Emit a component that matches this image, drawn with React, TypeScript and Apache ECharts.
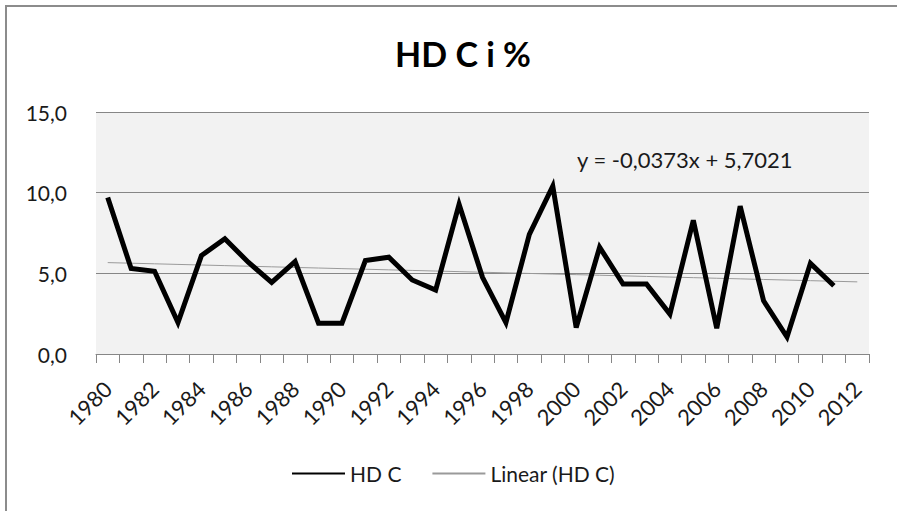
import React, { useEffect, useRef } from "react";
import * as echarts from "echarts";

const years = [
  "1980","1981","1982","1983","1984","1985","1986","1987","1988","1989",
  "1990","1991","1992","1993","1994","1995","1996","1997","1998","1999",
  "2000","2001","2002","2003","2004","2005","2006","2007","2008","2009",
  "2010","2011","2012",
];
const hdcValues: (number | string)[] = [
  9.7, 5.3, 5.13, 1.95, 6.1, 7.14, 5.69, 4.44, 5.73, 1.91,
  1.91, 5.79, 6.0, 4.59, 3.96, 9.28, 4.75, 1.95, 7.41, 10.4,
  1.64, 6.62, 4.34, 4.34, 2.47, 8.29, 1.6, 9.16, 3.3, 1.05,
  5.62, 4.23, "-",
];
const trendSlope = -0.0373;
const trendIntercept = 5.7021;
const trendValues = years.map((_, i) => +(trendSlope * (i + 1) + trendIntercept).toFixed(4));
const equationText = "y = -0,0373x + 5,7021";
const titleText = "HD C i %";
const seriesName = "HD C";
const trendName = "Linear (HD C)";

const FONT = "Lato, 'Open Sans', sans-serif";
const TXT = "#1a1a1a";

export default function App() {
  const ref = useRef<HTMLDivElement>(null);
  useEffect(() => {
    if (!ref.current) return;
    const chart = echarts.init(ref.current, null, { renderer: "svg" });
    chart.setOption({
      animation: false,
      backgroundColor: "#ffffff",
      textStyle: { fontFamily: FONT },
      title: {
        text: titleText,
        left: 458,
        textAlign: "center",
        top: 31,
        textStyle: { fontFamily: FONT, fontSize: 34, fontWeight: "bold", color: "#000" },
      },
      grid: { left: 96, right: 28, top: 112, bottom: 157, backgroundColor: "#f2f2f2", show: true, borderWidth: 0 },
      legend: {
        top: 458,
        left: 286,
        itemWidth: 53,
        itemHeight: 12,
        itemGap: 30,
        itemStyle: { opacity: 0 },
        textStyle: { fontFamily: FONT, fontSize: 21, color: TXT },
        data: [seriesName, trendName],
      },
      xAxis: {
        type: "category",
        data: years,
        boundaryGap: true,
        axisLine: { lineStyle: { color: "#868686", width: 1 } },
        axisTick: { show: true, length: 9, interval: 0, lineStyle: { color: "#868686" } },
        axisLabel: {
          interval: 1,
          rotate: 45,
          fontSize: 22,
          color: TXT,
          fontFamily: FONT,
          margin: 31,
        },
        splitLine: { show: false },
      },
      yAxis: {
        type: "value",
        min: 0,
        max: 15,
        interval: 5,
        axisLine: { show: false },
        axisTick: { show: false },
        axisLabel: {
          fontSize: 21,
          color: TXT,
          fontFamily: FONT,
          margin: 29,
          formatter: (v: number) => v.toFixed(1).replace(".", ","),
        },
        splitLine: { lineStyle: { color: "#868686", width: 1 } },
      },
      series: [
        {
          name: seriesName,
          type: "line",
          data: hdcValues,
          symbol: "none",
          lineStyle: { color: "#000", width: 5, join: "miter" },
          itemStyle: { color: "#000" },
          z: 3,
        },
        {
          name: trendName,
          type: "line",
          data: trendValues,
          symbol: "none",
          lineStyle: { color: "#9a9a9a", width: 1 },
          itemStyle: { color: "#9a9a9a" },
          z: 2,
        },
      ],
      graphic: [
        {
          type: "line",
          shape: { x1: 5, y1: 6, x2: 897, y2: 6 },
          style: { stroke: "#8c8c8c", lineWidth: 2 },
          silent: true,
        },
        {
          type: "line",
          shape: { x1: 6, y1: 5, x2: 6, y2: 511 },
          style: { stroke: "#8c8c8c", lineWidth: 2 },
          silent: true,
        },
        {
          type: "text",
          left: 577,
          top: 148,
          style: { text: equationText, fontFamily: FONT, fontSize: 22, fill: TXT },
        },
      ],
    });
    return () => chart.dispose();
  }, []);
  return <div ref={ref} style={{ position: "fixed", left: 0, top: 0, width: 897, height: 511 }} />;
}
